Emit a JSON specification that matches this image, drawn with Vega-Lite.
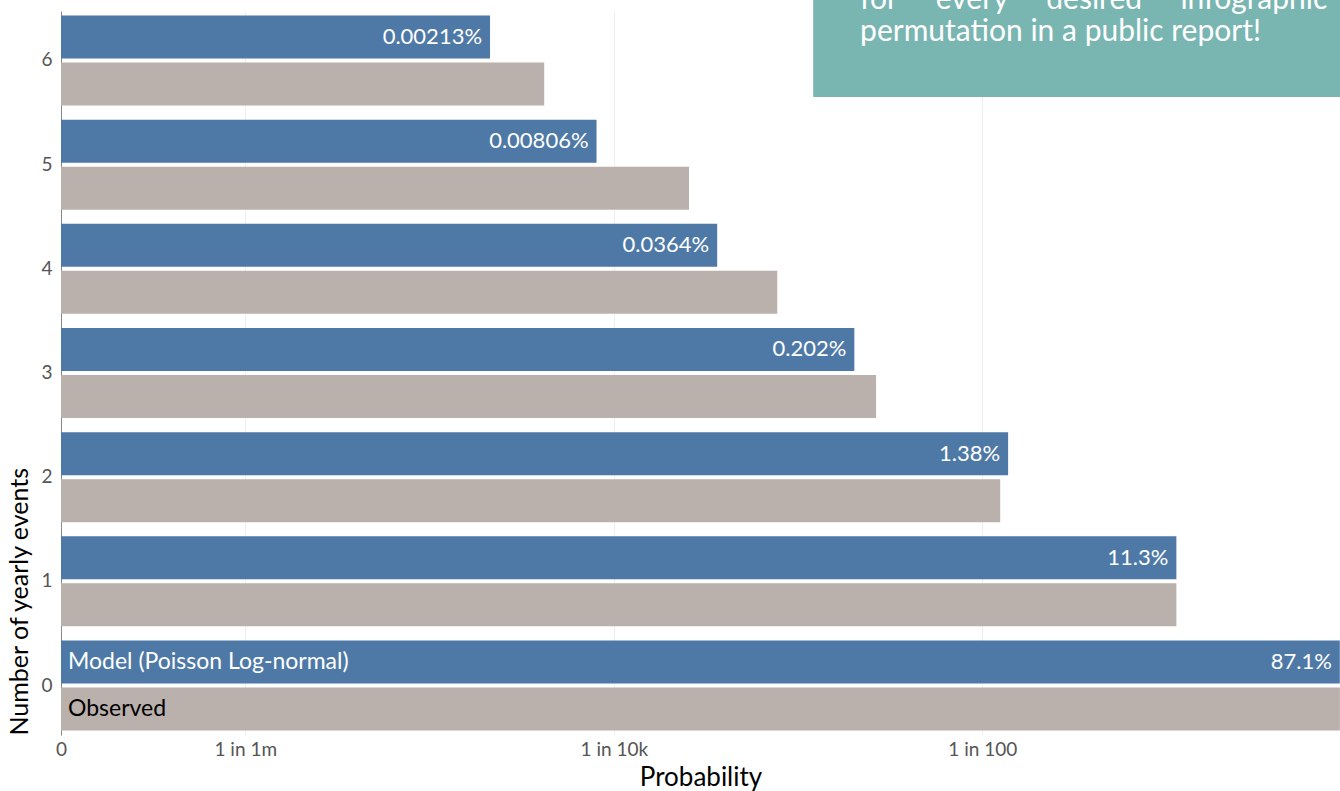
{
  "$schema": "https://vega.github.io/schema/vega-lite/v6.json",
  "width": 1279,
  "height": 724,
  "autosize": {"type": "none"},
  "padding": {"left": 61, "top": 11, "right": 0, "bottom": 56},
  "background": "white",
  "config": {
    "font": "Lato",
    "view": {"stroke": null},
    "axis": {"titleFontWeight": "normal", "titleColor": "#000000", "labelColor": "#555555"}
  },
  "data": {
    "values": [
      {"events": 0, "source": "Model (Poisson Log-normal)", "p": 0.871, "label": "87.1%"},
      {"events": 1, "source": "Model (Poisson Log-normal)", "p": 0.113, "label": "11.3%"},
      {"events": 2, "source": "Model (Poisson Log-normal)", "p": 0.0138, "label": "1.38%"},
      {"events": 3, "source": "Model (Poisson Log-normal)", "p": 0.00202, "label": "0.202%"},
      {"events": 4, "source": "Model (Poisson Log-normal)", "p": 0.000364, "label": "0.0364%"},
      {"events": 5, "source": "Model (Poisson Log-normal)", "p": 0.0000806, "label": "0.00806%"},
      {"events": 6, "source": "Model (Poisson Log-normal)", "p": 0.0000213, "label": "0.00213%"},
      {"events": 0, "source": "Observed", "p": 0.872},
      {"events": 1, "source": "Observed", "p": 0.113},
      {"events": 2, "source": "Observed", "p": 0.0125},
      {"events": 3, "source": "Observed", "p": 0.00265},
      {"events": 4, "source": "Observed", "p": 0.000771},
      {"events": 5, "source": "Observed", "p": 0.000256},
      {"events": 6, "source": "Observed", "p": 0.0000419}
    ]
  },
  "layer": [
    {
      "encoding": {
        "y": {
          "field": "events",
          "type": "ordinal",
          "sort": "descending",
          "scale": {"paddingInner": 0.136, "paddingOuter": 0.043},
          "axis": {
            "title": "Number of yearly events",
            "titleFontSize": 25,
            "titleAnchor": "end",
            "titleAlign": "left",
            "titlePadding": 8,
            "labelFontSize": 19,
            "labelPadding": 9,
            "labelAngle": 0,
            "ticks": false,
            "domain": true,
            "domainColor": "#888888",
            "grid": false
          }
        },
        "yOffset": {
          "field": "source",
          "scale": {"domain": ["Model (Poisson Log-normal)", "Observed"], "paddingInner": 0.085, "paddingOuter": 0}
        }
      },
      "layer": [
        {
          "mark": {"type": "bar"},
          "encoding": {
            "x": {
              "field": "p",
              "type": "quantitative",
              "scale": {"type": "log", "domain": [1e-7, 0.873], "nice": false},
              "axis": {
                "title": "Probability",
                "titleFontSize": 26,
                "titlePadding": 5,
                "labelFontSize": 19,
                "labelPadding": 5,
                "labelFlush": false,
                "labelOverlap": false,
                "values": [1e-7, 1e-6, 1e-4, 1e-2],
                "labelExpr": "datum.value < 5e-7 ? '0' : datum.value < 5e-6 ? '1 in 1m' : datum.value < 5e-4 ? '1 in 10k' : '1 in 100'",
                "ticks": false,
                "domain": false,
                "grid": true,
                "gridColor": "#eeeeee"
              }
            },
            "x2": {"datum": 1e-7},
            "color": {
              "field": "source",
              "type": "nominal",
              "scale": {"domain": ["Model (Poisson Log-normal)", "Observed"], "range": ["#4e79a7", "#bab0ac"]},
              "legend": null
            }
          }
        },
        {
          "transform": [{"filter": "datum.source === 'Model (Poisson Log-normal)'"}],
          "mark": {"type": "text", "align": "right", "baseline": "middle", "dx": -8, "fontSize": 22, "color": "#ffffff"},
          "encoding": {
            "x": {"field": "p", "type": "quantitative"},
            "text": {"field": "label"}
          }
        },
        {
          "transform": [{"filter": "datum.events === 0"}],
          "mark": {"type": "text", "align": "left", "baseline": "middle", "dx": 7, "fontSize": 23},
          "encoding": {
            "x": {"datum": 1e-7, "type": "quantitative"},
            "text": {"field": "source"},
            "color": {"condition": {"test": "datum.source === 'Observed'", "value": "#000000"}, "value": "#ffffff"}
          }
        }
      ]
    },
    {
      "data": {"values": [{"note": "annotation"}]},
      "encoding": {
        "y": {"type": "quantitative", "scale": {"domain": [-0.475, 6.475]}, "axis": null}
      },
      "layer": [
        {
          "mark": {"type": "rect", "color": "#79b6b1"},
          "encoding": {
            "x": {"datum": 0.001208, "type": "quantitative"},
            "x2": {"datum": 0.873},
            "y": {"datum": 5.65, "type": "quantitative", "scale": {"domain": [-0.475, 6.475]}, "axis": null},
            "y2": {"datum": 6.7}
          }
        },
        {
          "mark": {"type": "text", "align": "left", "baseline": "alphabetic", "fontSize": 30, "color": "#ffffff"},
          "encoding": {
            "x": {"datum": 0.00217, "type": "quantitative"},
            "y": {"datum": 6.49, "type": "quantitative", "scale": {"domain": [-0.475, 6.475]}, "axis": null},
            "text": {"value": "for\u00a0\u00a0\u00a0\u00a0\u00a0every\u00a0\u00a0\u00a0\u00a0\u00a0desired\u00a0\u00a0\u00a0\u00a0\u00a0infographic"}
          }
        },
        {
          "mark": {"type": "text", "align": "left", "baseline": "alphabetic", "fontSize": 30, "color": "#ffffff"},
          "encoding": {
            "x": {"datum": 0.00217, "type": "quantitative"},
            "y": {"datum": 6.187, "type": "quantitative", "scale": {"domain": [-0.475, 6.475]}, "axis": null},
            "text": {"value": "permutation in a public report!"}
          }
        }
      ]
    }
  ],
  "resolve": {"scale": {"y": "independent"}}
}
